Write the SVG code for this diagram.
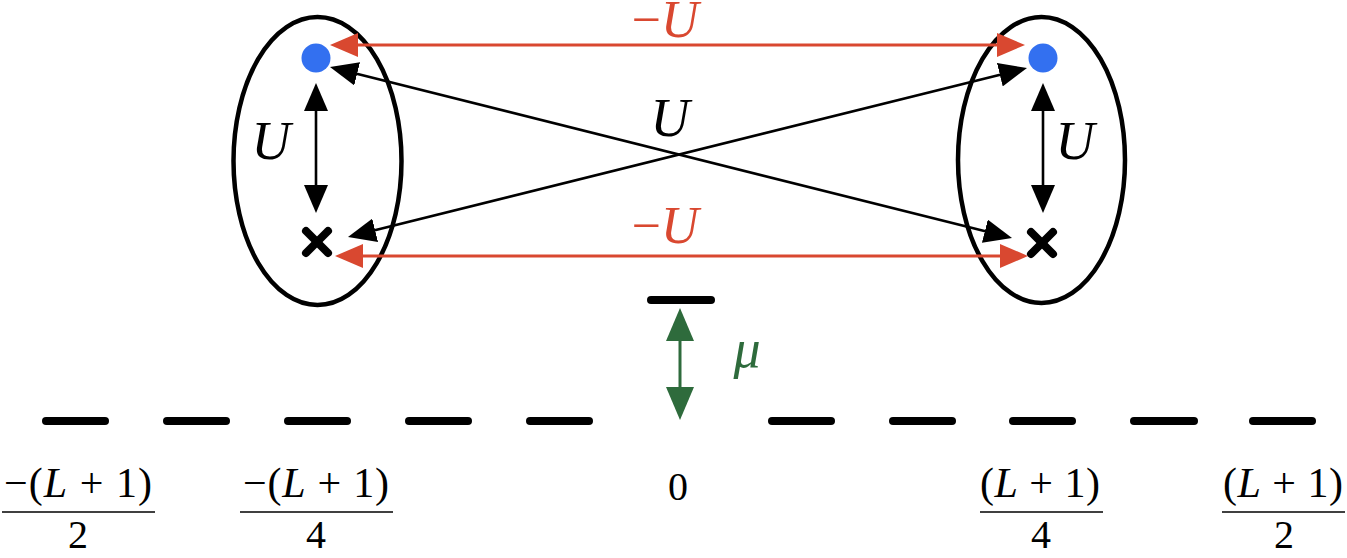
<svg xmlns="http://www.w3.org/2000/svg" width="1347" height="558" viewBox="0 0 1347 558">
<style>
.ell{fill:none;stroke:#000;stroke-width:4.5}
.dot{fill:#3370f0}
.cross{stroke:#000;stroke-width:8;stroke-linecap:round}
.blk{stroke:#000;stroke-width:2.6;fill:none}
.red{stroke:#d94830;stroke-width:3;fill:none}
.grn{stroke:#2e6b3c;stroke-width:3;fill:none}
.lvl{stroke:#000;stroke-width:8;stroke-linecap:round}
.tx{font-family:"Liberation Serif",serif}
.it{font-style:italic}
.fl{stroke:#000;stroke-width:1.6}
</style>
<defs>
<marker id="ab" viewBox="0 0 28 24" markerWidth="28" markerHeight="24" refX="18" refY="12" orient="auto-start-reverse" markerUnits="userSpaceOnUse"><path d="M0,0 L28,12 L0,24 z" fill="#000"/></marker>
<marker id="ar" viewBox="0 0 28 24" markerWidth="28" markerHeight="24" refX="18" refY="12" orient="auto-start-reverse" markerUnits="userSpaceOnUse"><path d="M0,0 L28,12 L0,24 z" fill="#d94830"/></marker>
<marker id="ag" viewBox="0 0 33 28" markerWidth="33" markerHeight="28" refX="21" refY="14" orient="auto-start-reverse" markerUnits="userSpaceOnUse"><path d="M0,0 L33,14 L0,28 z" fill="#2e6b3c"/></marker>
</defs>

<g id="leftSite">
<ellipse class="ell" cx="317.5" cy="161" rx="84" ry="144"/>
<circle class="dot" cx="316" cy="58" r="14.5"/>
<line class="cross" x1="306" y1="231" x2="328" y2="253"/>
<line class="cross" x1="328" y1="231" x2="306" y2="253"/>
<text class="tx it" x="271" y="159" font-size="54" text-anchor="middle">U</text>
</g>

<g id="rightSite">
<ellipse class="ell" cx="1041.5" cy="160" rx="83.5" ry="143"/>
<circle class="dot" cx="1043" cy="58" r="14.5"/>
<line class="cross" x1="1031" y1="232" x2="1053" y2="254"/>
<line class="cross" x1="1053" y1="232" x2="1031" y2="254"/>
<text class="tx it" x="1075" y="159" font-size="54" text-anchor="middle">U</text>
</g>

<g id="connectors">
<line class="red" x1="340" y1="45" x2="1015" y2="45" marker-start="url(#ar)" marker-end="url(#ar)"/>
<line class="red" x1="345" y1="256" x2="1018" y2="256" marker-start="url(#ar)" marker-end="url(#ar)"/>
<line class="blk" x1="339.7" y1="69.4" x2="1002.3" y2="235.6" marker-start="url(#ab)" marker-end="url(#ab)"/>
<line class="blk" x1="357.7" y1="234.6" x2="1017.3" y2="70.4" marker-start="url(#ab)" marker-end="url(#ab)"/>
<line class="blk" x1="316" y1="93" x2="316" y2="203" marker-start="url(#ab)" marker-end="url(#ab)"/>
<line class="blk" x1="1043" y1="93" x2="1043" y2="203" marker-start="url(#ab)" marker-end="url(#ab)"/>
<line class="grn" x1="680" y1="320" x2="680" y2="408" marker-start="url(#ag)" marker-end="url(#ag)"/>
</g>

<g id="labels">
<text class="tx" x="665" y="37" font-size="52" text-anchor="middle" fill="#d94830">−<tspan class="it">U</tspan></text>
<text class="tx" x="665" y="243" font-size="52" text-anchor="middle" fill="#d94830">−<tspan class="it">U</tspan></text>
<text class="tx it" x="670" y="136" font-size="54" text-anchor="middle">U</text>
<text class="tx it" x="747" y="367" font-size="54" text-anchor="middle" fill="#2e6b3c">μ</text>
</g>

<g id="levels">
<line class="lvl" x1="651" y1="300" x2="711" y2="300"/>
<line class="lvl" x1="46" y1="421" x2="105" y2="421"/>
<line class="lvl" x1="167" y1="421" x2="226" y2="421"/>
<line class="lvl" x1="288" y1="421" x2="347" y2="421"/>
<line class="lvl" x1="409" y1="421" x2="468" y2="421"/>
<line class="lvl" x1="530" y1="421" x2="589" y2="421"/>
<line class="lvl" x1="772" y1="421" x2="831" y2="421"/>
<line class="lvl" x1="893" y1="421" x2="952" y2="421"/>
<line class="lvl" x1="1013" y1="421" x2="1072" y2="421"/>
<line class="lvl" x1="1134" y1="421" x2="1194" y2="421"/>
<line class="lvl" x1="1253" y1="421" x2="1312" y2="421"/>
</g>

<g id="axisLabels">
<text class="tx" x="78" y="497" font-size="42" text-anchor="middle" textLength="148" lengthAdjust="spacing">−(<tspan class="it">L</tspan> + 1)</text>
<line class="fl" x1="2" y1="512" x2="155" y2="512"/>
<text class="tx" x="78" y="548" font-size="40" text-anchor="middle">2</text>

<text class="tx" x="316" y="497" font-size="42" text-anchor="middle" textLength="146" lengthAdjust="spacing">−(<tspan class="it">L</tspan> + 1)</text>
<line class="fl" x1="240" y1="512" x2="393" y2="512"/>
<text class="tx" x="316" y="548" font-size="40" text-anchor="middle">4</text>

<text class="tx" x="678" y="500" font-size="40" text-anchor="middle">0</text>

<text class="tx" x="1040" y="497" font-size="42" text-anchor="middle" textLength="120" lengthAdjust="spacing">(<tspan class="it">L</tspan> + 1)</text>
<line class="fl" x1="980" y1="512" x2="1103" y2="512"/>
<text class="tx" x="1041" y="548" font-size="40" text-anchor="middle">4</text>

<text class="tx" x="1283" y="497" font-size="42" text-anchor="middle" textLength="120" lengthAdjust="spacing">(<tspan class="it">L</tspan> + 1)</text>
<line class="fl" x1="1222" y1="512" x2="1345" y2="512"/>
<text class="tx" x="1284" y="548" font-size="40" text-anchor="middle">2</text>
</g>
</svg>
